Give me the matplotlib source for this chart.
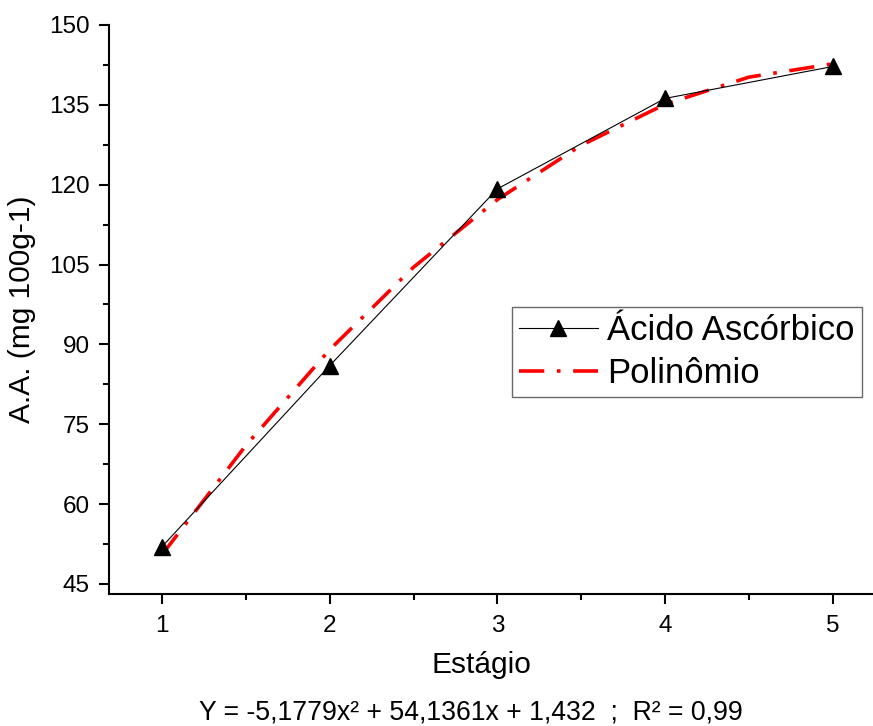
import matplotlib
matplotlib.use("Agg")
import matplotlib.pyplot as plt
from matplotlib.ticker import MultipleLocator

plt.rcParams['font.family'] = ['Liberation Sans', 'DejaVu Sans']

# ---- dados ----
estagio = [1, 2, 3, 4, 5]
acido = [52.0, 86.0, 119.2, 136.2, 142.2]

# curva do polinomio
x_pol = [1, 1.5, 2, 2.5, 3, 3.5, 4, 4.5, 5]
y_pol = [50.5, 71.0, 89.0, 104.5, 117.2, 127.4, 135.1, 140.2, 142.7]

xticks = [1, 2, 3, 4, 5]
yticks = [45, 60, 75, 90, 105, 120, 135, 150]

fig = plt.figure(figsize=(8.73, 7.26), dpi=100)
ax = fig.add_axes([0.1249, 0.1818, 0.8751, 0.7838])

ax.plot(estagio, acido, color='black', lw=0.8, marker='^', ms=11,
        label='Ácido Ascórbico', zorder=3)
ax.plot(x_pol, y_pol, color='red', lw=2.6, dashes=(7, 3.5, 1, 3.5),
        label='Polinômio', zorder=2)

ax.set_xlim(0.684, 5.24)
ax.set_ylim(43.1, 150)
ax.set_xticks(xticks)
ax.set_yticks(yticks)
ax.xaxis.set_minor_locator(MultipleLocator(0.5))
ax.yaxis.set_minor_locator(MultipleLocator(7.5))

for s in ['top', 'right']:
    ax.spines[s].set_visible(False)
for s in ['left', 'bottom']:
    ax.spines[s].set_linewidth(1.5)

ax.tick_params(which='major', length=7, width=1.5, labelsize=17.5)
ax.tick_params(axis='y', which='major', pad=7)
ax.tick_params(axis='x', which='major', pad=8)
ax.tick_params(which='minor', length=4, width=1.5)

ax.set_ylabel('A.A. (mg 100g-1)', fontsize=21.5, labelpad=9)
fig.text(0.5515, 0.084, 'Estágio', fontsize=21.5, ha='center', va='center')
fig.text(0.5395, 0.019, 'Y = -5,1779x² + 54,1361x + 1,432  ;  R² = 0,99',
         fontsize=19.2, ha='center', va='center')

leg = ax.legend(loc='upper left', bbox_to_anchor=(0.586, 0.577),
                bbox_transform=fig.transFigure, fontsize=25,
                handlelength=2.3, handletextpad=0.25, labelspacing=0.3,
                borderpad=0.2, borderaxespad=0, fancybox=False,
                frameon=True)
leg.get_frame().set_edgecolor('#444444')
leg.get_frame().set_linewidth(1.0)

fig.savefig('out.png', dpi=100)
